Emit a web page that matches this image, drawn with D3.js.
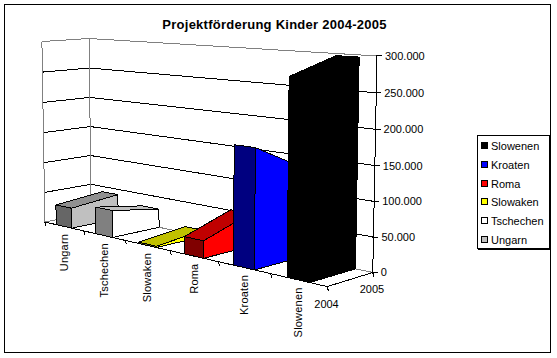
<!DOCTYPE html>
<html><head><meta charset="utf-8">
<script src="https://cdn.jsdelivr.net/npm/d3@7"></script>
<style>
html,body{margin:0;padding:0;background:#fff}
svg{display:block}
text{font-family:"Liberation Sans",Arial,sans-serif;font-size:11px;fill:#000}
</style></head><body>
<svg id="c" width="557" height="358"></svg>
<script>
const title = "Projektförderung Kinder 2004-2005";
const categories = ["Ungarn","Tschechen","Slowaken","Roma","Kroaten","Slowenen"];
const years = ["2004","2005"];
const values2004 = [33000,43000,2000,26000,173000,275000];
const values2005 = [41000,30000,10000,51000,133000,297000];
const yTicks = [0,50000,100000,150000,200000,250000,300000];
const legendOrder = ["Slowenen","Kroaten","Roma","Slowaken","Tschechen","Ungarn"];
const rightColors = ["#c0c0c0","#ffffff","#ffff00","#ff0000","#0000ff","#000000"];
const topColors   = ["#909090","#c0c0c0","#c0c000","#c00000","#0000c0","#000000"];
const frontColors = ["#666666","#808080","#808000","#800000","#000080","#000000"];

const svg = d3.select("#c");
const crisp = "crispEdges";

// camera: perspective map fitted to the box corners (u,v,w in 0..1)
const anchors = [
 [0,0,0,45,223],[1,0,0,327,286],[0,1,0,91,212],[1,1,0,373,273],
 [0,0,1,42,41],[0,1,1,89,39],[1,1,1,377,56]];
function solveCamera(pts){
  const rows=[],rhs=[];
  pts.forEach(([u,v,w,x,y])=>{
    rows.push([u,v,w,1,0,0,0,0,-x*u,-x*v,-x*w]);rhs.push(x);
    rows.push([0,0,0,0,u,v,w,1,-y*u,-y*v,-y*w]);rhs.push(y);
  });
  const n=11,A=d3.range(n).map(i=>d3.range(n+1).map(j=>{
    let s=0;rows.forEach((r,k)=>{s+=r[i]*(j<n?r[j]:rhs[k]);});return s;}));
  for(let i=0;i<n;i++){
    let m=i;for(let k=i+1;k<n;k++)if(Math.abs(A[k][i])>Math.abs(A[m][i]))m=k;
    [A[i],A[m]]=[A[m],A[i]];
    for(let k=0;k<n;k++){if(k===i)continue;const f=A[k][i]/A[i][i];
      for(let j=i;j<=n;j++)A[k][j]-=f*A[i][j];}
  }
  return d3.range(n).map(i=>A[i][n]/A[i][i]);
}
const P=solveCamera(anchors);
const proj=(u,v,w)=>{const d=P[8]*u+P[9]*v+P[10]*w+1;
  return [(P[0]*u+P[1]*v+P[2]*w+P[3])/d,(P[4]*u+P[5]*v+P[6]*w+P[7])/d];};

const uScale=d3.scaleBand().domain(categories).range([0,1]).paddingInner(0.6).paddingOuter(0.3);
const vScale=d3.scalePoint().domain(years).range([0,1]);
const wScale=d3.scaleLinear().domain([0,300000]).range([0,1]);
const line=d3.line();

// outer frame
svg.append("rect").attr("x",4.5).attr("y",4.5).attr("width",546).attr("height",348)
  .attr("fill","#fff").attr("stroke","#000").attr("shape-rendering",crisp);

svg.append("text").attr("x",274.5).attr("y",28.5).attr("text-anchor","middle")
  .attr("font-weight","bold").style("font-size","13px").style("letter-spacing","0.25px").text(title);

const stroke=(pts,col)=>svg.append("path").attr("d",line(pts)).attr("fill","none")
  .attr("stroke",col).attr("shape-rendering",crisp);

// walls
yTicks.forEach(t=>{
  const w=wScale(t), c=(t===300000)?"#808080":"#000";
  if(t>0) stroke([proj(0,0,w),proj(0,1,w),proj(1,1,w)],c);
  else stroke([proj(0,0,0),proj(0,1,0),proj(1,1,0)],"#808080");
});
stroke([proj(0,0,0),proj(0,0,1)],"#808080");
stroke([proj(0,1,0),proj(0,1,1)],"#808080");

// category and depth axes
stroke([proj(0,0,0),proj(1,0,0)],"#000");
stroke([proj(1,0,0),proj(1,1,0)],"#000");
stroke([proj(1,1,0),proj(1,1,1)],"#000");
categories.forEach((c,i)=>{
  const p=proj(uScale.step()*i,0,0); stroke([p,[p[0]+1,p[1]+4]],"#000");
});
(()=>{const p=proj(1,0,0);stroke([p,[p[0]+1,p[1]+4]],"#000");
      const q=proj(1,1,0);stroke([q,[q[0]+1,q[1]+4]],"#000");})();
yTicks.forEach(t=>{
  const p=proj(1,1,wScale(t)); stroke([[p[0]-1,p[1]],[p[0]+5,p[1]]],"#000");
  svg.append("text").attr("x",p[0]+8).attr("y",p[1]+4).text(d3.format(",")(t).replace(/,/g,"."));
});
years.forEach(y=>{
  const p=proj(1,vScale(y),0);
  svg.append("text").attr("x",p[0]-13).attr("y",p[1]+21).text(y);
});

// prisms, back to front
categories.forEach((c,i)=>{
  const u0=uScale(c),u1=u0+uScale.bandwidth();
  const w0=wScale(values2004[i]),w1=wScale(values2005[i]);
  const v0=vScale("2004"),v1=vScale("2005");
  const face=(pts,col)=>svg.append("path").attr("d",line(pts)+"Z").attr("fill",col)
    .attr("stroke","#000").attr("stroke-linejoin","round").attr("shape-rendering",crisp);
  face([proj(u0,v0,w0),proj(u1,v0,w0),proj(u1,v1,w1),proj(u0,v1,w1)],topColors[i]);
  face([proj(u1,v0,0),proj(u1,v1,0),proj(u1,v1,w1),proj(u1,v0,w0)],rightColors[i]);
  face([proj(u0,v0,0),proj(u1,v0,0),proj(u1,v0,w0),proj(u0,v0,w0)],frontColors[i]);
});

// category labels
categories.forEach(c=>{
  const p=proj(uScale(c)+uScale.bandwidth()/2,0,0);
  svg.append("text").attr("transform",`translate(${p[0]+4},${p[1]+7.5}) rotate(-90)`)
    .attr("text-anchor","end").style("letter-spacing","0.2px").text(c);
});

// legend
svg.append("rect").attr("x",477.5).attr("y",135.5).attr("width",72).attr("height",113)
  .attr("fill","#fff").attr("stroke","#000").attr("shape-rendering",crisp);
svg.append("path").attr("d","M550.5 136V249.5H478").attr("fill","none").attr("stroke","#000").attr("shape-rendering",crisp);
const legendY=d3.scalePoint().domain(legendOrder).range([146,240]);
legendOrder.forEach(n=>{
  const i=categories.indexOf(n),y=legendY(n);
  svg.append("rect").attr("x",481.5).attr("y",y-3.5).attr("width",6).attr("height",6)
    .attr("fill",rightColors[i]).attr("stroke","#000").attr("shape-rendering",crisp);
  svg.append("text").attr("x",491).attr("y",y+4).text(n);
});
</script></body></html>
